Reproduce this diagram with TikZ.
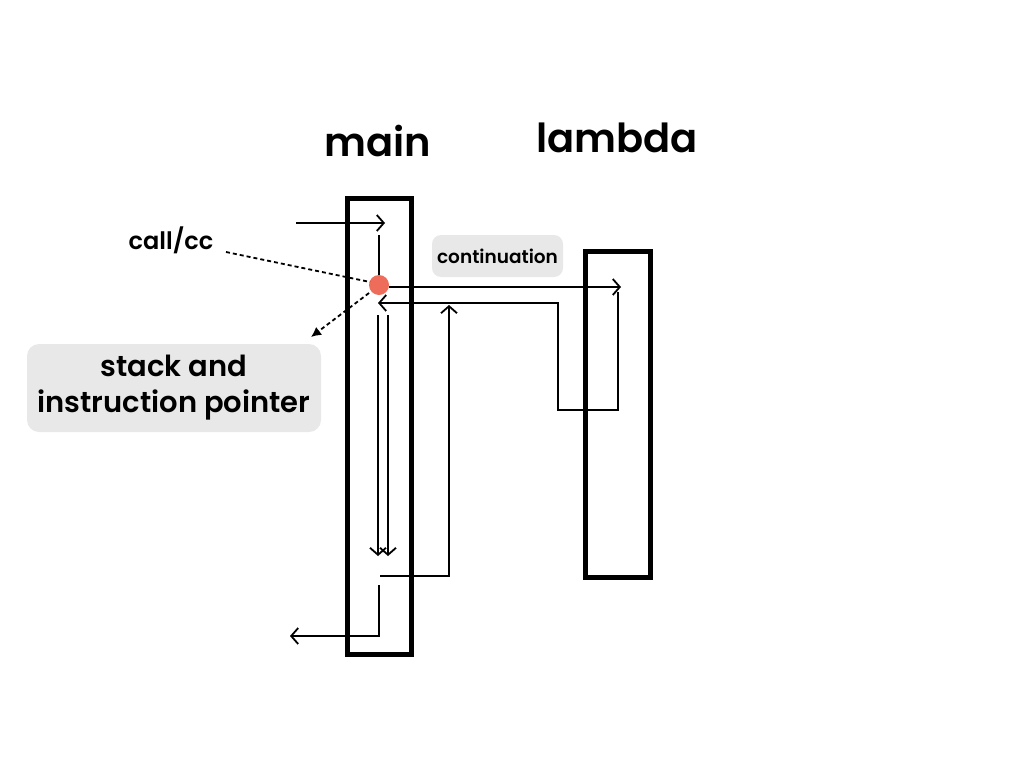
\documentclass[tikz,border=0pt]{standalone}
\usepackage{fontspec}
\setmainfont{Poppins}[BoldFont={Poppins SemiBold}]
\usetikzlibrary{positioning,arrows.meta}
\definecolor{dotred}{RGB}{238,108,90}
\definecolor{taggray}{RGB}{232,232,232}
\tikzset{
  frame/.style={draw, line width=5pt, inner sep=0pt},
  flow/.style={line width=1.8pt},
  tag/.style={fill=taggray, rounded corners=12pt, inner sep=0pt, align=center, font=\bfseries},
  title/.style={font=\bfseries\fontsize{40}{48}\selectfont},
  >={Straight Barb[length=7pt,width=16pt]},
}

\begin{document}
\begin{tikzpicture}[x=1pt, y=-1pt]
    \useasboundingbox (0,0) rectangle (1024,768);
    % frames
    \node[frame, minimum width=64pt, minimum height=456pt] (main) at (379,426) {};
    \node[frame, minimum width=65pt, minimum height=326pt] (lambda) at (617.5,414) {};
    \node[title] (tmain) at (378,141) {main};
    \node[title] (tlambda) at (617,138) {lambda};
    % labels
    \node[tag, minimum width=294pt, minimum height=88pt, font=\bfseries\fontsize{29}{36}\selectfont] (stack) at (174,388) {stack and\\instruction pointer};
    \node[tag, rounded corners=9pt, minimum width=131pt, minimum height=42pt, font=\bfseries\fontsize{18.5}{22}\selectfont] (cont) at (497.5,256) {continuation};
    \node[font=\bfseries\fontsize{24}{28}\selectfont] (callcc) at (171,240) {call/cc};
    \node[circle, fill=dotred, inner sep=0pt, minimum size=20pt] (dot) at (379,285) {};
    % path points
    \coordinate (a0) at (296,223);
    \coordinate (a1) at (385,223);
    \coordinate (b0) at (379,235);
    \coordinate (c1) at (621,287);
    \coordinate (d0) at (618,292);
    \coordinate (d1) at (618,410);
    \coordinate (d2) at (558,410);
    \coordinate (d3) at (558,303);
    \coordinate (d4) at (378,303);
    \coordinate (e0) at (378,315);
    \coordinate (e1) at (378,556);
    \coordinate (f0) at (388,315);
    \coordinate (f1) at (388,556);
    \coordinate (g0) at (380,576);
    \coordinate (g1) at (449,576);
    \coordinate (g2) at (449,305);
    \coordinate (h0) at (379,585);
    \coordinate (h1) at (379,636);
    \coordinate (h2) at (290,636);
    \coordinate (k0) at (226,252);
    \coordinate (k1) at (370,282);
    \coordinate (m0) at (369,293);
    \coordinate (m1) at (311,337);
    % flow
    \draw[flow, ->] (a0) -- (a1);
    \draw[flow] (b0) -- (dot);
    \draw[flow, ->] (dot.east |- c1) -- (c1);
    \draw[flow, ->] (d0) -- (d1) -- (d2) -- (d3) -- (d4);
    \draw[flow, ->] (e0) -- (e1);
    \draw[flow, ->] (f0) -- (f1);
    \draw[flow, ->] (g0) -- (g1) -- (g2);
    \draw[flow, ->] (h0) -- (h1) -- (h2);
    \draw[flow, dash pattern=on 4pt off 3pt] (k0) -- (k1);
    \draw[flow, dash pattern=on 4pt off 3pt, -{Latex[length=10pt,width=10pt]}] (m0) -- (m1);
\end{tikzpicture}
\end{document}
